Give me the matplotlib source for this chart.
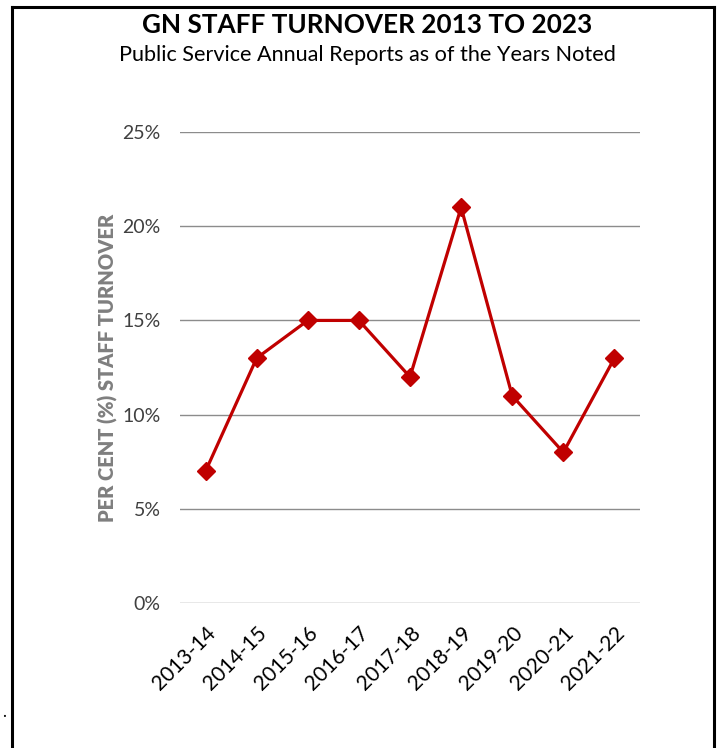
import matplotlib
matplotlib.use("Agg")
import matplotlib.pyplot as plt
from matplotlib.lines import Line2D
from matplotlib.ticker import PercentFormatter

years = ["2013-14", "2014-15", "2015-16", "2016-17", "2017-18",
         "2018-19", "2019-20", "2020-21", "2021-22"]
turnover = [0.07, 0.13, 0.15, 0.15, 0.12, 0.21, 0.11, 0.08, 0.13]
y_ticks = [0.0, 0.05, 0.10, 0.15, 0.20, 0.25]

plt.rcParams["font.family"] = ["Lato", "DejaVu Sans"]

fig = plt.figure(figsize=(7.2, 7.48), dpi=100)
ax = fig.add_axes([0.25, 0.1938, 0.6389, 0.6297])

x = list(range(len(years)))
ax.plot(x, turnover, color="#C00000", lw=2.3, marker="D", ms=9.5,
        markerfacecolor="#C00000", markeredgecolor="#C00000", zorder=3)

ax.set_xlim(-0.5, len(years) - 0.5)
ax.set_ylim(0, 0.25)
ax.set_yticks(y_ticks)
ax.yaxis.set_major_formatter(PercentFormatter(1.0, decimals=0))
ax.set_xticks(x)
ax.set_xticklabels(years, rotation=45, ha="right", rotation_mode="anchor",
                   fontsize=15, color="#000000")
ax.tick_params(axis="y", labelsize=14, labelcolor="#404040", length=0, pad=14)
ax.tick_params(axis="x", length=0, pad=14)
ax.grid(axis="y", color="#8c8c8c", lw=1.0)
ax.set_axisbelow(True)
for s in ax.spines.values():
    s.set_visible(False)

ax.set_ylabel("PER CENT (%) STAFF TURNOVER", fontsize=14.5, fontweight="heavy",
              color="#7f7f7f")
ax.yaxis.set_label_coords(-0.135, 0.5)

fig.text(0.51, 0.967, "GN STAFF TURNOVER 2013 TO 2023", ha="center", va="center",
         fontsize=18.8, fontweight="bold", color="#000000")
fig.text(0.51, 0.926, "Public Service Annual Reports as of the Years Noted",
         ha="center", va="center", fontsize=15.6, color="#000000")

# frame around the chart (open at the bottom)
frame_kw = dict(color="black", lw=2.2, transform=fig.transFigure, clip_on=False)
fig.add_artist(Line2D([12 / 720, 12 / 720], [0, 1 - 7 / 748], **frame_kw))
fig.add_artist(Line2D([12 / 720, 714 / 720], [1 - 7 / 748, 1 - 7 / 748], **frame_kw))
fig.add_artist(Line2D([714 / 720, 714 / 720], [0, 1 - 7 / 748], **frame_kw))
fig.text(2 / 720, 1 - 720 / 748, ".", fontsize=12, color="black", va="bottom")

fig.savefig("out.png", dpi=100)
